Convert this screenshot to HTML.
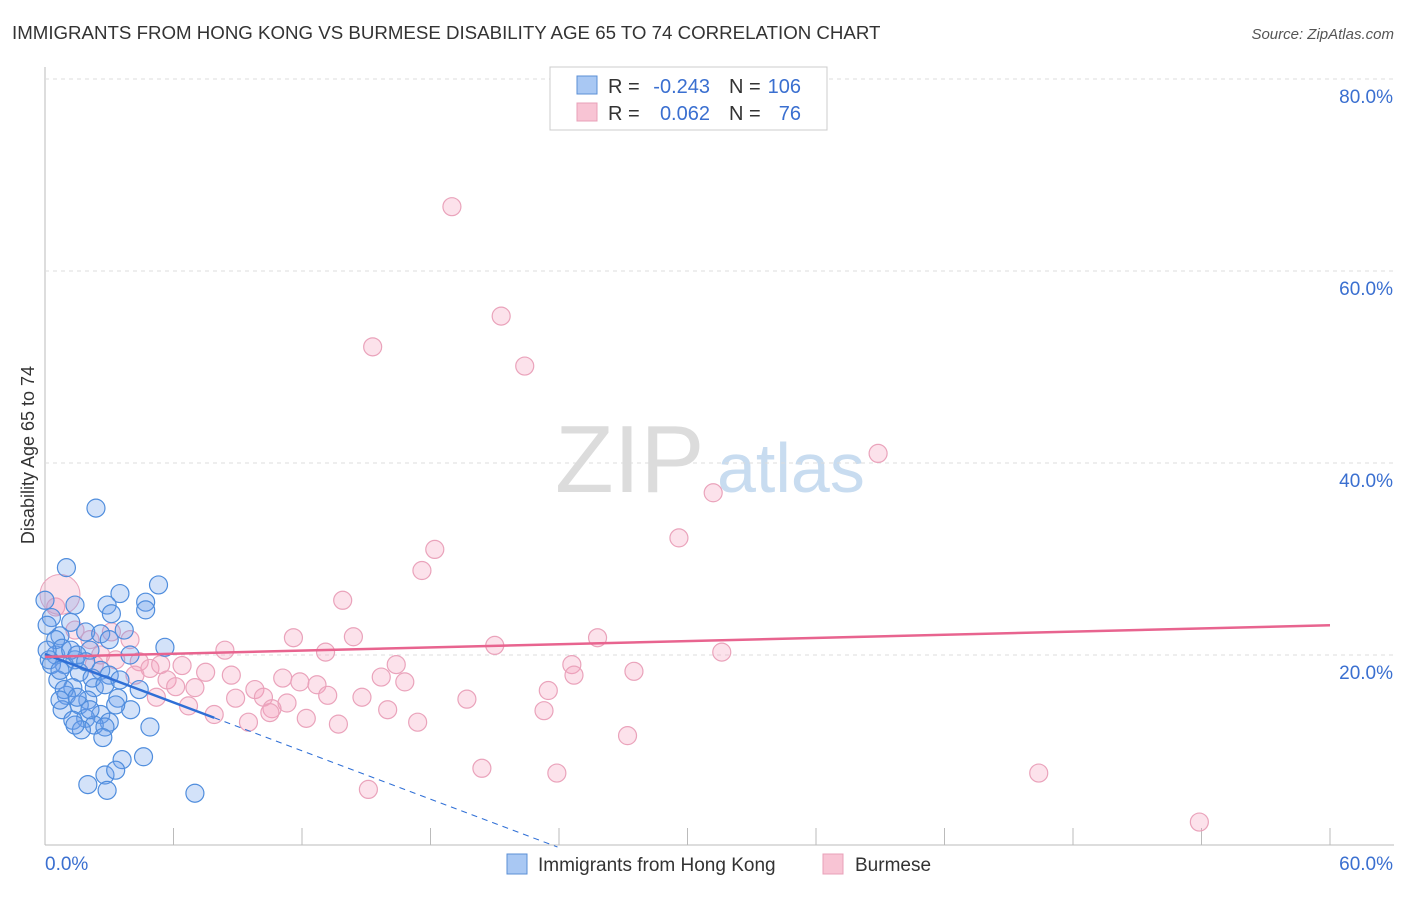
<!DOCTYPE html>
<html><head><meta charset="utf-8"><style>
body{margin:0;background:#fff;font-family:"Liberation Sans",sans-serif}
svg text{font-family:"Liberation Sans",sans-serif}
</style></head><body>
<svg id="c" width="1406" height="892" xmlns="http://www.w3.org/2000/svg">
<text x="12" y="39" font-size="18.7" fill="#333">IMMIGRANTS FROM HONG KONG VS BURMESE DISABILITY AGE 65 TO 74 CORRELATION CHART</text>
<text x="1394" y="39" font-size="15" fill="#555" text-anchor="end" font-style="italic">Source: ZipAtlas.com</text>
<text x="555" y="492" font-size="96" fill="#dcdcdc" font-family="Liberation Serif">ZIP</text>
<text x="717" y="492" font-size="70" fill="#c8dcf0">atlas</text>
<text transform="translate(34,455) rotate(-90)" font-size="18" fill="#333" text-anchor="middle">Disability Age 65 to 74</text>
<g id="grid"></g><g id="pts"></g><g id="lines"></g>
<g>
<rect x="550" y="67" width="277" height="63" fill="#fff" stroke="#ccc"/>
<rect x="577" y="76" width="20" height="18" fill="#a9c8f3" stroke="#5b8fd6"/>
<rect x="577" y="103" width="20" height="18" fill="#f8c4d4" stroke="#e8a0b8"/>
<text x="608" y="93" font-size="20" fill="#333">R =</text>
<text x="710" y="93" font-size="20" fill="#3a6fd0" text-anchor="end">-0.243</text>
<text x="729" y="93" font-size="20" fill="#333">N =</text>
<text x="801" y="93" font-size="20" fill="#3a6fd0" text-anchor="end">106</text>
<text x="608" y="120" font-size="20" fill="#333">R =</text>
<text x="710" y="120" font-size="20" fill="#3a6fd0" text-anchor="end">0.062</text>
<text x="729" y="120" font-size="20" fill="#333">N =</text>
<text x="801" y="120" font-size="20" fill="#3a6fd0" text-anchor="end">76</text>
</g>
<rect x="507" y="854" width="20" height="20" fill="#a9c8f3" stroke="#5b8fd6"/>
<text x="538" y="871" font-size="19" fill="#333">Immigrants from Hong Kong</text>
<rect x="823" y="854" width="20" height="20" fill="#f8c4d4" stroke="#e8a0b8"/>
<text x="855" y="871" font-size="19" fill="#333">Burmese</text>
</svg>
<script>
const xTicks=[0,6,12,18,24,30,36,42,48,54,60];
const yTicks=[20,40,60,80];
const blueX=[2.38,1.0,5.3,3.5,4.7,2.9,1.4,3.1,4.7,0.3,1.2,3.7,1.9,2.6,0.7,3.0,5.6,3.97,2.1,0.5,1.4,0.9,0.2,1.6,2.6,3.0,0.6,1.3,2.3,4.4,1.0,2.0,3.4,1.6,0.8,4.0,2.6,1.9,1.3,3.0,2.3,4.9,2.8,1.7,2.7,3.6,4.6,2.8,3.3,2.0,2.9,7.0,0,0.1,0.5,0.8,1.2,1.5,0.1,0.3,0.7,1.9,2.2,0.9,2.8,3.5,1.5,2.1,3.3,1.4,0.7];
const blueY=[35.3,29.1,27.3,26.4,25.5,25.2,25.2,24.3,24.7,23.9,23.4,22.6,22.4,22.2,22.0,21.6,20.8,20.0,20.5,20.0,19.5,19.0,19.5,18.2,18.4,17.9,17.4,16.6,16.6,16.4,15.8,15.3,15.5,14.8,14.3,14.3,13.8,13.4,13.2,13.0,12.7,12.5,12.5,12.2,11.4,9.1,9.4,7.5,8.0,6.5,5.9,5.6,25.7,23.1,21.6,20.7,20.5,20.0,20.5,19.0,18.4,19.3,17.6,16.4,16.9,17.4,15.6,14.3,14.8,12.7,15.3];
const pinkX=[19.0,21.3,15.3,22.4,38.9,31.2,29.6,18.2,17.6,13.9,11.6,14.4,25.8,21.0,13.1,31.6,8.4,24.6,16.4,6.4,7.5,27.5,24.7,8.7,11.1,15.7,16.8,5.7,11.9,12.7,6.1,7.0,9.8,23.5,13.2,5.2,8.9,10.2,19.7,14.8,11.3,6.7,10.6,16.0,23.3,10.5,7.9,12.2,9.5,17.4,13.7,27.2,20.4,23.9,46.4,15.1,53.9,0.5,1.4,2.1,3.1,3.97,2.6,3.3,4.4,4.9,4.2,2.3,5.4];
const pinkY=[66.7,55.3,52.1,50.1,41.0,36.9,32.2,31.0,28.8,25.7,21.8,21.9,21.8,21.0,20.3,20.3,20.5,19.0,19.0,18.9,18.2,18.3,17.9,17.9,17.6,17.7,17.2,17.4,17.2,16.9,16.7,16.6,16.4,16.3,15.8,15.6,15.5,15.6,15.4,15.6,15.0,14.7,14.4,14.3,14.2,14.0,13.8,13.4,13.0,13.0,12.8,11.6,8.2,7.7,7.7,6.0,2.6,25.0,22.6,21.6,22.4,21.6,20.0,19.5,19.3,18.6,17.9,19.0,19.0];
const blueTrend=[20.1,-0.84];
const pinkTrend=[19.8,0.055];
const NS="http://www.w3.org/2000/svg";
const X=v=>45+v/60*1285, Y=v=>847-v*9.6;
function mk(t,a,p){const e=document.createElementNS(NS,t);for(const k in a)e.setAttribute(k,a[k]);p.appendChild(e);return e;}
const g=document.getElementById('grid');
const ax=mk('line',{x1:45,y1:845,x2:1394,y2:845,stroke:'#bbb'},g);


const ay=mk('line',{x1:45,y1:67,x2:45,y2:845,stroke:'#bbb'},g);


yTicks.forEach(t=>{
 const l=mk('line',{x1:45,y1:Y(t),x2:1394,y2:Y(t),stroke:'#ddd','stroke-dasharray':'4,4'},g);
 
 
 const tx=mk('text',{x:1393,y:Y(t)+24,'font-size':19,fill:'#3a6fd0','text-anchor':'end'},g);tx.textContent=t.toFixed(1)+'%';
 
 
});
xTicks.forEach(t=>{
 const l=mk('line',{x1:X(t),y1:828,x2:X(t),y2:845,stroke:'#bbb'},g);
 
 
});
[[0,'start'],[60,'end']].forEach(([t,a])=>{
 const tx=mk('text',{x:t?1393:45,y:870,'font-size':19,fill:'#3a6fd0','text-anchor':a},g);tx.textContent=t.toFixed(1)+'%';
 
 
});
const p=document.getElementById('pts');
pinkX.forEach((x,i)=>{
 const c=mk('circle',{cx:X(x),cy:Y(pinkY[i]),r:9,fill:'rgba(244,160,188,0.3)',stroke:'#eaa3bb','stroke-width':1.2},p);
 
 
});
const big=mk('circle',{cx:X(0.7),cy:Y(26.3),r:20,fill:'rgba(244,160,188,0.3)',stroke:'#eaa3bb'},p);


blueX.forEach((x,i)=>{
 const c=mk('circle',{cx:X(x),cy:Y(blueY[i]),r:9,fill:'rgba(110,160,235,0.3)',stroke:'#4f8ddd','stroke-width':1.2},p);
 
 
});
const L=document.getElementById('lines');
const bEnd=7.9, bZero=-blueTrend[0]/blueTrend[1];
const b1=mk('line',{x1:X(0),y1:Y(blueTrend[0]),x2:X(bEnd),y2:Y(blueTrend[0]+blueTrend[1]*bEnd),stroke:'#2f6fd6','stroke-width':2.5},L);


const b2=mk('line',{x1:X(bEnd),y1:Y(blueTrend[0]+blueTrend[1]*bEnd),x2:X(bZero),y2:Y(0),stroke:'#2f6fd6','stroke-width':1,'stroke-dasharray':'6,5'},L);


const pl=mk('line',{x1:X(0),y1:Y(pinkTrend[0]),x2:X(60),y2:Y(pinkTrend[0]+pinkTrend[1]*60),stroke:'#e8648f','stroke-width':2.5},L);


</script>
</body></html>
